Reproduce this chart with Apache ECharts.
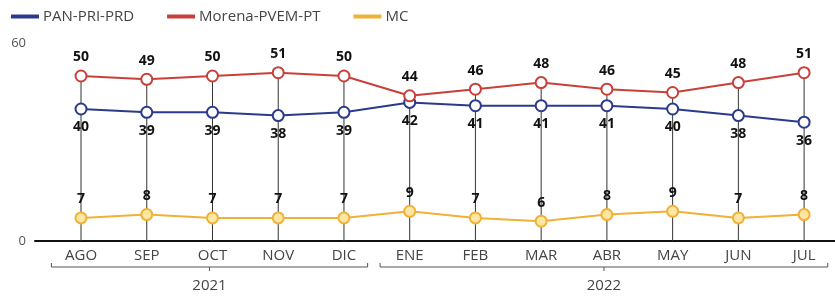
<!DOCTYPE html>
<html lang="es" style="height: 100%">
<head>
    <meta charset="utf-8">
</head>
<body style="height: 100%; margin: 0; background: #fff">
<div id="container" style="width: 835px; height: 297px"></div>

<script type="text/javascript" src="https://fastly.jsdelivr.net/npm/echarts@6/dist/echarts.min.js"></script>

<script type="text/javascript">
    // meses y valores
    var months = ['AGO', 'SEP', 'OCT', 'NOV', 'DIC', 'ENE', 'FEB', 'MAR', 'ABR', 'MAY', 'JUN', 'JUL'];
    var panPriPrd = [40, 39, 39, 38, 39, 42, 41, 41, 41, 40, 38, 36];
    var morena = [50, 49, 50, 51, 50, 44, 46, 48, 46, 45, 48, 51];
    var mc = [7, 8, 7, 7, 7, 9, 7, 6, 8, 9, 7, 8];
    var years = ['2021', '2022'];
    var yearSpans = [[0, 4], [5, 11]];

    var dom = document.getElementById('container');
    var myChart = echarts.init(dom, null, {renderer: 'canvas'});

    var FONT = '"Open Sans", "Noto Sans", sans-serif';

    function pairs(arr) {
        return arr.map(function (v, i) { return [i, v]; });
    }

    // lineas verticales desde el punto mas alto hasta el eje
    var dropData = months.map(function (m, i) {
        return [i, Math.max(panPriPrd[i], morena[i], mc[i])];
    });

    function lineSeries(name, data, color, fill, labelPos) {
        return {
            name: name,
            type: 'line',
            data: pairs(data),
            symbol: 'circle',
            symbolSize: 11,
            z: 5,
            lineStyle: {color: color, width: 2},
            itemStyle: {color: fill, borderColor: color, borderWidth: 2},
            label: {
                show: true,
                position: labelPos,
                distance: 5,
                color: '#111',
                fontSize: 14,
                fontWeight: 'bold',
                fontFamily: FONT
            },
            emphasis: {disabled: true}
        };
    }

    var option = {
        animation: false,
        legend: {
            left: 6,
            top: 4,
            itemWidth: 26,
            itemHeight: 2,
            itemGap: 33,
            icon: 'rect',
            textStyle: {color: '#444', fontSize: 15, fontFamily: FONT},
            data: ['PAN-PRI-PRD', 'Morena-PVEM-PT', 'MC']
        },
        grid: {left: 35, right: 0, top: 43, bottom: 56},
        xAxis: {
            type: 'value',
            min: -0.7,
            max: 11.47,
            axisLine: {show: true, onZero: false, lineStyle: {color: '#111', width: 2}},
            axisTick: {show: false},
            splitLine: {show: false},
            axisLabel: {
                customValues: months.map(function (m, i) { return i; }),
                formatter: function (v) { return months[v]; },
                color: '#444',
                fontSize: 15,
                margin: 7,
                fontFamily: FONT
            }
        },
        yAxis: {
            type: 'value',
            min: 0,
            max: 60,
            interval: 60,
            axisLine: {show: false},
            axisTick: {show: false},
            splitLine: {show: false},
            axisLabel: {color: '#555', fontSize: 13, margin: 9, fontFamily: FONT}
        },
        series: [
            {
                type: 'custom',
                z: 1,
                silent: true,
                data: dropData,
                renderItem: function (params, api) {
                    var top = api.coord([api.value(0), api.value(1)]);
                    var bottom = api.coord([api.value(0), 0]);
                    return {
                        type: 'line',
                        shape: {x1: top[0], y1: top[1], x2: bottom[0], y2: bottom[1]},
                        style: {stroke: '#333', lineWidth: 1}
                    };
                }
            },
            {
                type: 'custom',
                silent: true,
                clip: false,
                data: yearSpans.map(function (s) { return [s[0], s[1], 0]; }),
                encode: {x: [0, 1], y: 2},
                renderItem: function (params, api) {
                    var a = api.coord([api.value(0) - 0.45, 0]);
                    var b = api.coord([api.value(1) + 0.36, 0]);
                    var y = a[1] + 26;
                    var xm = (a[0] + b[0]) / 2;
                    return {
                        type: 'group',
                        children: [
                            {
                                type: 'polyline',
                                shape: {points: [[a[0], y - 4], [a[0], y], [b[0], y], [b[0], y - 4]]},
                                style: {stroke: '#555', lineWidth: 1, fill: null}
                            },
                            {
                                type: 'line',
                                shape: {x1: xm, y1: y, x2: xm, y2: y + 4},
                                style: {stroke: '#555', lineWidth: 1}
                            },
                            {
                                type: 'text',
                                x: xm,
                                y: y + 19,
                                style: {
                                    text: years[params.dataIndex],
                                    fill: '#444',
                                    fontSize: 15,
                                    fontFamily: FONT,
                                    align: 'center',
                                    verticalAlign: 'middle'
                                }
                            }
                        ]
                    };
                }
            },
            lineSeries('PAN-PRI-PRD', panPriPrd, '#2c3a8c', '#fff', 'bottom'),
            lineSeries('Morena-PVEM-PT', morena, '#c8403a', '#fff', 'top'),
            lineSeries('MC', mc, '#f0b136', '#fde7a2', 'top')
        ]
    };

    myChart.setOption(option);
    window.addEventListener('resize', myChart.resize);
</script>
</body>
</html>
